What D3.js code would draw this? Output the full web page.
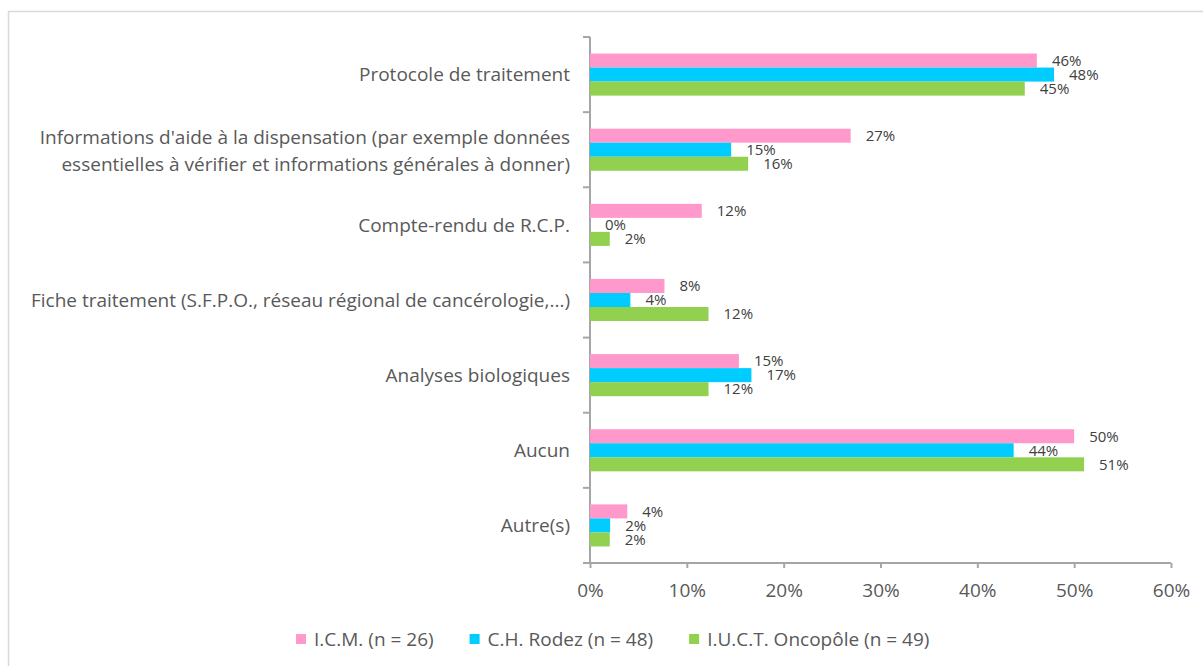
<!DOCTYPE html>
<html>
<head>
<meta charset="utf-8">
<script src="https://cdn.jsdelivr.net/npm/d3@7"></script>
<style>
  body { margin: 0; background: #fff; }
  svg { display: block; font-family: "Open Sans", sans-serif; }
</style>
</head>
<body>
<div class="chart"></div>
<script>
(function(){

  var categories = [
    "Protocole de traitement",
    "Informations d'aide à la dispensation (par exemple données|essentielles à vérifier et informations générales à donner)",
    "Compte-rendu de R.C.P.",
    "Fiche traitement (S.F.P.O., réseau régional de cancérologie,...)",
    "Analyses biologiques",
    "Aucun",
    "Autre(s)"
  ];
  var seriesNames = ["I.C.M. (n = 26)", "C.H. Rodez (n = 48)", "I.U.C.T. Oncopôle (n = 49)"];
  var icm   = [0.4615, 0.2692, 0.1154, 0.0769, 0.1538, 0.5000, 0.0385];
  var rodez = [0.4792, 0.1458, 0.0000, 0.0417, 0.1667, 0.4375, 0.0208];
  var iuct  = [0.4490, 0.1633, 0.0204, 0.1224, 0.1224, 0.5102, 0.0204];
  var xTicks = [0, 0.1, 0.2, 0.3, 0.4, 0.5, 0.6];
  var colors = ["#ff99cc", "#00ccff", "#92d050"];

  var seriesValues = [icm, rodez, iuct];
  var width = 1203, height = 666;

  var svg = d3.select('.chart').append('svg')
    .attr('width', width)
    .attr('height', height);

  // outer frame (runs off the right and bottom edges)
  svg.append('rect')
    .attr('x', 8.5).attr('y', 11.5)
    .attr('width', 1210).attr('height', 670)
    .attr('fill', 'none')
    .attr('stroke', '#d9d9d9')
    .attr('stroke-width', 1.5);

  var x = d3.scaleLinear().domain([0, 0.6]).range([590, 1171]);

  var y = d3.scaleBand()
    .domain(categories)
    .range([37, 563])
    .paddingInner(0.44)
    .paddingOuter(0.22);

  var inner = d3.scaleBand()
    .domain(d3.range(seriesNames.length))
    .range([0, y.bandwidth()]);

  // x axis
  var xAxis = d3.axisBottom(x)
    .tickValues(xTicks)
    .tickFormat(d3.format('.0%'))
    .tickSize(5)
    .tickPadding(16);

  var gx = svg.append('g')
    .attr('transform', 'translate(0,563)')
    .call(xAxis);
  gx.select('.domain').remove();
  gx.append('line')
    .attr('x1', 583).attr('x2', x(0.6))
    .attr('stroke', '#a6a6a6').attr('stroke-width', 2);
  gx.selectAll('.tick line').attr('stroke', '#a6a6a6').attr('stroke-width', 2);
  gx.selectAll('.tick text')
    .attr('fill', '#595959')
    .style('font-size', '19px')
    .style('font-family', '"Open Sans", sans-serif');

  // y axis line and boundary ticks
  var step = y.step();
  var bounds = d3.range(categories.length + 1).map(function(i){
    return y.range()[0] + i * step;
  });
  svg.append('line')
    .attr('x1', 590).attr('x2', 590)
    .attr('y1', y.range()[0]).attr('y2', 563)
    .attr('stroke', '#a6a6a6').attr('stroke-width', 2);
  svg.selectAll('.ytick').data(bounds).enter().append('line')
    .attr('class', 'ytick')
    .attr('x1', 583).attr('x2', 590)
    .attr('y1', function(d){ return d; })
    .attr('y2', function(d){ return d; })
    .attr('stroke', '#a6a6a6').attr('stroke-width', 2);

  // category labels
  var catText = svg.selectAll('.cat').data(categories).enter().append('text')
    .attr('class', 'cat')
    .attr('text-anchor', 'end')
    .attr('fill', '#595959')
    .style('font-size', '19px')
    .attr('x', 570)
    .attr('y', function(d){ return y(d) + y.bandwidth() / 2; });
  catText.each(function(d){
    var lines = d.split('|');
    var t = d3.select(this);
    lines.forEach(function(line, i){
      t.append('tspan')
        .attr('x', 570)
        .attr('dy', i === 0 ? ((0.35 - (lines.length - 1) * 0.66) + 'em') : '1.42em')
        .text(line);
    });
  });

  // bars
  var groups = svg.selectAll('.grp').data(seriesValues).enter().append('g')
    .attr('class', 'grp');

  groups.each(function(vals, s){
    var g = d3.select(this);
    g.selectAll('rect').data(vals).enter().append('rect')
      .attr('x', x(0))
      .attr('y', function(d, i){ return y(categories[i]) + inner(s); })
      .attr('width', function(d){ return x(d) - x(0); })
      .attr('height', inner.bandwidth())
      .attr('fill', colors[s]);

    g.selectAll('text').data(vals).enter().append('text')
      .attr('x', function(d){ return x(d) + 15; })
      .attr('y', function(d, i){ return y(categories[i]) + inner(s) + inner.bandwidth() / 2; })
      .attr('dy', '0.35em')
      .attr('fill', '#404040')
      .style('font-size', '15px')
      .text(function(d){ return d3.format('.0%')(d); });
  });

  // legend
  var lx = 296;
  seriesNames.forEach(function(name, i){
    svg.append('rect')
      .attr('x', lx).attr('y', 634)
      .attr('width', 10).attr('height', 10)
      .attr('fill', colors[i]);
    var t = svg.append('text')
      .attr('x', lx + 18).attr('y', 639)
      .attr('dy', '0.35em')
      .attr('fill', '#595959')
      .style('font-size', '19px')
      .text(name);
    lx += 18 + t.node().getComputedTextLength() + 36;
  });

}());
</script>
</body>
</html>
